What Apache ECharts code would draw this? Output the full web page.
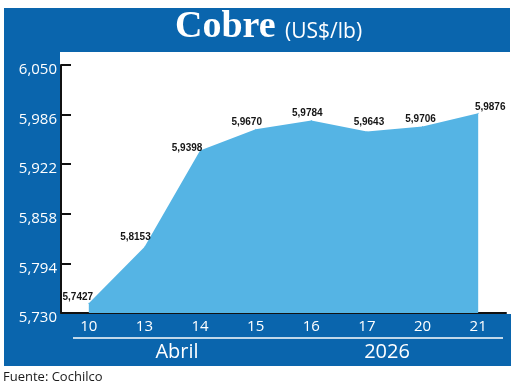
<!DOCTYPE html>
<html>
<head>
<meta charset="utf-8">
<script src="https://cdn.jsdelivr.net/npm/echarts@6/dist/echarts.min.js"></script>
<style>
html,body{margin:0;padding:0;background:#fff;}
#c{width:520px;height:388px;}
</style>
</head>
<body>
<div id="c"></div>
<script>
const days = ['10', '13', '14', '15', '16', '17', '20', '21'];
const prices = [5.7427, 5.8153, 5.9398, 5.9670, 5.9784, 5.9643, 5.9706, 5.9876];
const yTicks = [5.730, 5.794, 5.858, 5.922, 5.986, 6.050];
const groupLabels = ['Abril', '2026'];
const titleMain = 'Cobre';
const titleUnit = '(US$/lb)';
const sourceText = 'Fuente: Cochilco';

const BLUE = '#0a65ad';
const AREA = '#55b4e4';
// label nudges relative to 'top' position (style only)
const nudges = [[-11, 3], [-9, -1], [-13, 6], [-9, 1], [-4, 1], [2, -1], [-2, 1], [12, 2]];

const fmt = v => v.toFixed(4).replace('.', ',');

const chart = echarts.init(document.getElementById('c'), null, {renderer: 'canvas'});
chart.setOption({
  animation: false,
  backgroundColor: '#ffffff',
  grid: {left: 61, right: 14, top: 65, bottom: 75},
  xAxis: {
    type: 'category',
    data: days,
    boundaryGap: true,
    axisLine: {show: true, lineStyle: {color: '#111', width: 2}},
    axisTick: {show: true, inside: true, length: 7, lineStyle: {color: '#111', width: 2},
      interval: (i) => i === days.length},
    axisLabel: {color: '#fff', fontFamily: 'Open Sans', fontSize: 15, margin: 6}
  },
  yAxis: {
    type: 'value',
    min: yTicks[0],
    max: yTicks[yTicks.length - 1],
    splitLine: {show: false},
    axisLine: {show: true, lineStyle: {color: '#111', width: 2}},
    axisTick: {show: true, inside: true, length: 10, customValues: yTicks, lineStyle: {color: '#111', width: 2}},
    axisLabel: {color: '#fff', fontFamily: 'Open Sans', fontSize: 15, margin: 4,
      customValues: yTicks, verticalAlign: 'top', lineHeight: 10,
      formatter: v => v.toFixed(3).replace('.', ',')}
  },
  series: [{
    type: 'line',
    data: prices.map((v, i) => ({
      value: v,
      label: {offset: nudges[i]}
    })),
    symbol: 'circle',
    symbolSize: 1,
    itemStyle: {color: AREA},
    lineStyle: {width: 0, opacity: 0},
    areaStyle: {color: AREA, opacity: 1},
    label: {
      show: true,
      position: 'top',
      distance: 3,
      color: '#151515',
      fontFamily: '"Liberation Sans", Arial, sans-serif',
      fontWeight: 'bold',
      fontSize: 10,
      formatter: p => fmt(p.value)
    },
    z: 2
  }],
  graphic: [
    {type: 'rect', z: -10, silent: true, shape: {x: 4, y: 8, width: 506, height: 44}, style: {fill: BLUE}},
    {type: 'rect', z: -10, silent: true, shape: {x: 4, y: 52, width: 56, height: 262}, style: {fill: BLUE}},
    {type: 'rect', z: -10, silent: true, shape: {x: 4, y: 314, width: 507, height: 52}, style: {fill: BLUE}},
    {type: 'line', z: -5, silent: true, shape: {x1: 73, y1: 338, x2: 503, y2: 338}, style: {stroke: '#fff', lineWidth: 1.5}},
    {type: 'text', z: 5, silent: true, x: 175, y: 27, style: {text: titleMain, fill: '#fff',
      font: 'bold 38px "Liberation Serif", serif', textVerticalAlign: 'middle', textAlign: 'left'}},
    {type: 'text', z: 5, silent: true, x: 285, y: 32, style: {text: titleUnit, fill: '#fff',
      font: '21px "Open Sans", sans-serif', textVerticalAlign: 'middle', textAlign: 'left'}},
    {type: 'text', z: 5, silent: true, x: 177, y: 352, style: {text: groupLabels[0], fill: '#fff',
      font: '20px "Open Sans", sans-serif', textVerticalAlign: 'middle', textAlign: 'center'}},
    {type: 'text', z: 5, silent: true, x: 387, y: 352, style: {text: groupLabels[1], fill: '#fff',
      font: '20px "Open Sans", sans-serif', textVerticalAlign: 'middle', textAlign: 'center'}},
    {type: 'text', z: 5, silent: true, x: 3, y: 377, style: {text: sourceText, fill: '#1a1a1a',
      font: '13px "Open Sans", sans-serif', textVerticalAlign: 'middle', textAlign: 'left'}}
  ]
});
</script>
</body>
</html>
